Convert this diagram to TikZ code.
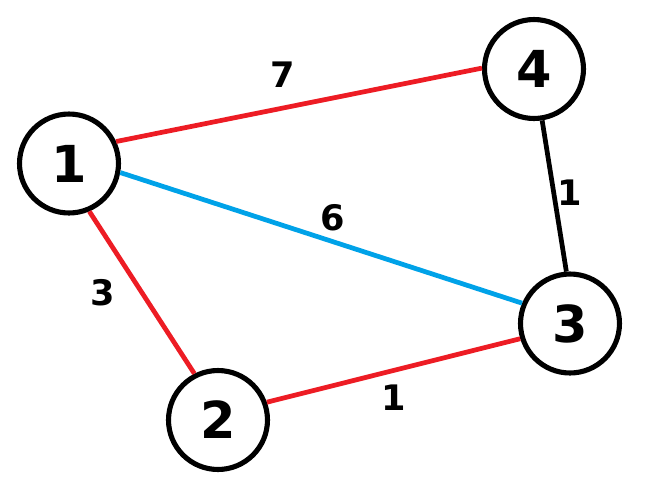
\documentclass[tikz,border=0pt]{standalone}
\usepackage{fontspec}
\setmainfont{DejaVu Sans}
\usepackage{tikz}

\definecolor{paintred}{RGB}{237,28,36}
\definecolor{paintblue}{RGB}{0,162,232}

\begin{document}
\begin{tikzpicture}[x=0.02cm,y=-0.02cm,
		vertex/.style={draw,circle,line width=2.9pt,minimum size=1.98cm,inner sep=0pt,font=\fontsize{29}{29}\selectfont\bfseries},
		weight/.style={inner sep=0pt,font=\fontsize{20}{20}\selectfont\bfseries},
		redge/.style={paintred,line width=2.7pt},
		bedge/.style={paintblue,line width=2.7pt},
		kedge/.style={black,line width=2.7pt}]
		%\draw[help lines] (0,0) grid (654,501);
		\useasboundingbox (0,0) rectangle (654,501);
		\node[vertex] (n1) at (69,163.5) {1};
		\node[vertex] (n2) at (218,420) {2};
		\node[vertex] (n3) at (570,323.5) {3};
		\node[vertex] (n4) at (534,69) {4};
		\draw[redge] (n1.25) -- (n4.179);
		\draw[bedge] (n1.-10) -- (n3.157);
		\draw[redge] (n1.-67) -- (n2.117);
		\draw[redge] (n2.20) -- (n3.197);
		\draw[kedge] (n4.-81) -- (n3.94);
		\node[weight] (w14) at (282.5,74.5) {7};
		\node[weight] (w13) at (333,218) {6};
		\node[weight] (w12) at (103,293) {3};
		\node[weight] (w43) at (570,193) {1};
		\node[weight] (w23) at (394,398) {1};
\end{tikzpicture}
\end{document}
